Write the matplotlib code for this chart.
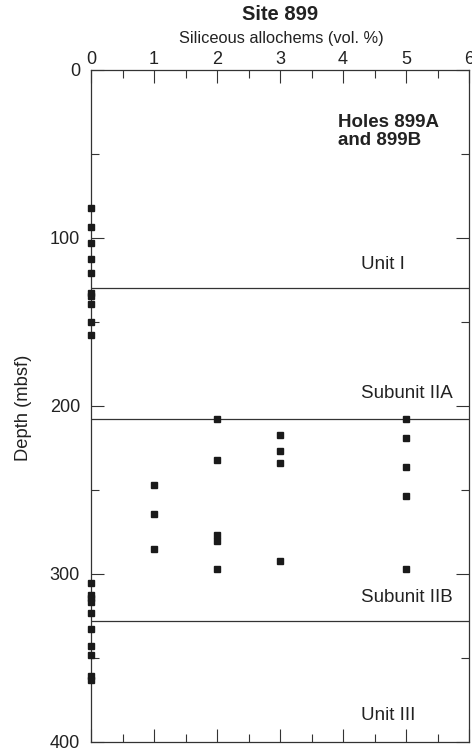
import matplotlib
matplotlib.use('Agg')
import matplotlib.pyplot as plt
from matplotlib.ticker import MultipleLocator

plt.rcParams['font.family'] = ['Liberation Sans', 'DejaVu Sans']

# siliceous allochems (vol. %) vs depth (mbsf)
allochems = [0, 0, 0, 0, 0, 0, 0, 0, 0, 0,
             0, 0, 0, 0, 0, 0, 0, 0, 0, 0,
             1, 1, 1,
             2, 2, 2, 2, 2,
             3, 3, 3, 3,
             5, 5, 5, 5, 5]
depth = [82, 93.5, 103, 112.5, 121, 132.5, 134.5, 139.5, 150, 158,
         305.5, 312.5, 314.5, 316.5, 323, 332.5, 343, 348, 360.5, 363,
         247, 264, 285,
         208, 232, 277, 280.5, 297,
         217, 226.5, 234, 292,
         208, 219, 236.5, 253.5, 297]

# unit boundaries and labels
boundaries = [130, 208, 328]
unit_names = ['Unit I', 'Subunit IIA', 'Subunit IIB', 'Unit III']
unit_label_depth = [115.5, 192.5, 314, 384]

fig = plt.figure(figsize=(4.72, 7.49), dpi=100)
ax = fig.add_axes([91/472, 1 - 742/749, 378/472, 672/749])

ax.plot(allochems, depth, 's', color='#1a1a1a', ms=4.8, clip_on=False, zorder=3)

for b in boundaries:
    ax.axhline(b, color='#333333', lw=0.9, zorder=2)

for name, d in zip(unit_names, unit_label_depth):
    ax.text(4.29, d, name, fontsize=13.5, color='#222222', va='center', ha='left')

ax.text(3.92, 36.5, 'Holes 899A\nand 899B', fontsize=13.5, fontweight='bold',
        color='#222222', va='center', ha='left', linespacing=1.05)

ax.set_xlim(0, 6)
ax.set_ylim(400, 0)
ax.xaxis.set_major_locator(MultipleLocator(1))
ax.xaxis.set_minor_locator(MultipleLocator(0.5))
ax.yaxis.set_major_locator(MultipleLocator(100))
ax.yaxis.set_minor_locator(MultipleLocator(50))
ax.tick_params(which='both', direction='in', top=True, bottom=True, left=True, right=True,
               labeltop=True, labelbottom=False, color='#333333', width=0.8)
ax.tick_params(which='major', length=9.5)
ax.tick_params(which='minor', length=5.5)
ax.tick_params(axis='x', labelsize=13, pad=1.5, labelcolor='#222222')
ax.tick_params(axis='y', labelsize=13, pad=8, labelcolor='#222222')
for s in ax.spines.values():
    s.set_linewidth(0.9)
    s.set_color('#333333')

fig.text(280/472, 1 - 15/749, 'Site 899', fontsize=14.5, fontweight='bold',
         ha='center', va='center', color='#222222')
fig.text(281/472, 1 - 38/749, 'Siliceous allochems (vol. %)', fontsize=11.8,
         ha='center', va='center', color='#222222')
fig.text(24/472, 1 - 408/749, 'Depth (mbsf)', fontsize=13.2, rotation=90,
         ha='center', va='center', color='#222222')

fig.savefig('out.png', dpi=100)
